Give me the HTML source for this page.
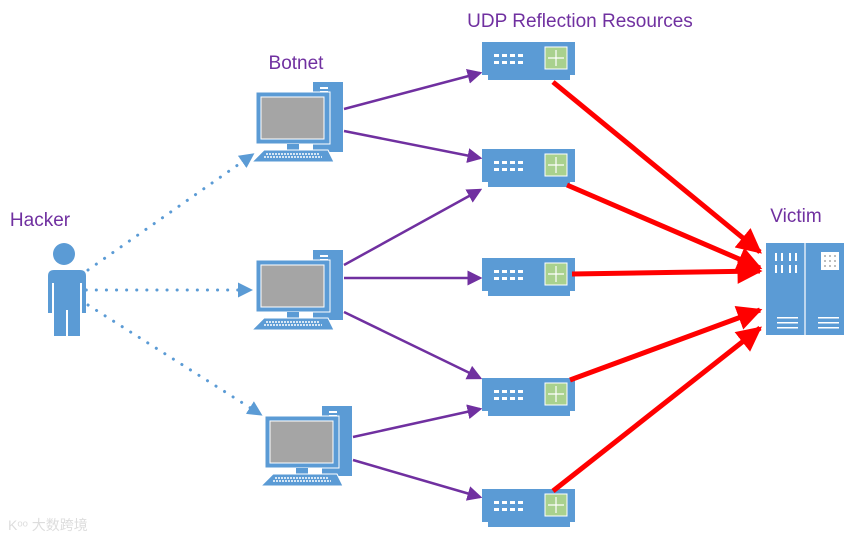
<!DOCTYPE html>
<html><head><style>body{margin:0;background:#fff}svg{display:block}</style></head><body>
<svg width="864" height="543" viewBox="0 0 864 543" xmlns="http://www.w3.org/2000/svg" font-family="Liberation Sans, sans-serif">
<defs>
<marker id="pa" markerWidth="6" markerHeight="6" refX="5" refY="3" orient="auto" markerUnits="strokeWidth"><path d="M0,0L6,3L0,6z" fill="#7030a0"/></marker>
<marker id="ba" markerWidth="5" markerHeight="5" refX="4" refY="2.5" orient="auto" markerUnits="strokeWidth"><path d="M0,0L5,2.5L0,5z" fill="#5b9bd5"/></marker>
<marker id="ra" markerWidth="5" markerHeight="5" refX="4.5" refY="2.5" orient="auto" markerUnits="strokeWidth"><path d="M0,0L5,2.5L0,5z" fill="#f00"/></marker>
<g id="sw">
<rect x="0" y="0" width="93" height="33" fill="#5b9bd5"/>
<rect x="6" y="33" width="82" height="5" fill="#5b9bd5"/>
<rect x="63" y="5" width="22" height="22" fill="#a9d18e" stroke="#fff" stroke-width="1"/>
<path d="M74,8v16M66,16h16" stroke="#fff" stroke-width="1.2"/>
<g fill="#fff"><rect x="12" y="12" width="5" height="3"/><rect x="20" y="12" width="5" height="3"/><rect x="28" y="12" width="5" height="3"/><rect x="36" y="12" width="5" height="3"/><rect x="12" y="19" width="5" height="3"/><rect x="20" y="19" width="5" height="3"/><rect x="28" y="19" width="5" height="3"/><rect x="36" y="19" width="5" height="3"/></g>
</g>
<g id="pc">
<rect x="61" y="0" width="30" height="70" fill="#5b9bd5"/>
<rect x="68" y="5" width="8" height="2" fill="#fff"/><rect x="68" y="9" width="8" height="2" fill="#fff"/>
<rect x="4" y="10" width="74" height="52" fill="#5b9bd5" stroke="#fff" stroke-width="1"/>
<rect x="9" y="15" width="63" height="42" fill="#a5a5a5" stroke="#fff" stroke-width="1"/>
<rect x="35" y="62" width="12" height="6" fill="#5b9bd5"/>
<path d="M12,68h64l6,12H0z" fill="#5b9bd5" stroke="#fff" stroke-width="1"/>
<path d="M14,72h54M12,75h58" stroke="#fff" stroke-width="1.5" stroke-dasharray="2 1"/>
</g>
</defs>
<text x="580" y="27" font-size="19" fill="#7030a0" text-anchor="middle">UDP Reflection Resources</text>
<text x="296" y="69" font-size="19" fill="#7030a0" text-anchor="middle">Botnet</text>
<text x="40" y="226" font-size="19" fill="#7030a0" text-anchor="middle">Hacker</text>
<text x="796" y="222" font-size="19" fill="#7030a0" text-anchor="middle">Victim</text>
<g stroke="#5b9bd5" stroke-width="3" stroke-dasharray="0.1 10" stroke-linecap="round" fill="none">
<line x1="88" y1="270" x2="252" y2="155" marker-end="url(#ba)"/>
<line x1="66" y1="290" x2="250" y2="290" marker-end="url(#ba)"/>
<line x1="88" y1="305" x2="260" y2="414" marker-end="url(#ba)"/>
</g>
<g fill="#5b9bd5">
<circle cx="64" cy="254" r="11"/>
<path d="M48,270h32q6,0 6,6v37h-4v-30h-2v53h-12v-26h-2v26h-12v-53h-2v30h-4v-37q0-6 6-6z"/>
</g>
<use href="#pc" x="252" y="82"/>
<use href="#pc" x="252" y="250"/>
<use href="#pc" x="261" y="406"/>
<g stroke="#7030a0" stroke-width="2.5" fill="none">
<line x1="344" y1="109" x2="480" y2="73" marker-end="url(#pa)"/>
<line x1="344" y1="131" x2="480" y2="158" marker-end="url(#pa)"/>
<line x1="344" y1="265" x2="480" y2="190" marker-end="url(#pa)"/>
<line x1="344" y1="278" x2="480" y2="278" marker-end="url(#pa)"/>
<line x1="344" y1="312" x2="480" y2="378" marker-end="url(#pa)"/>
<line x1="353" y1="437" x2="480" y2="409" marker-end="url(#pa)"/>
<line x1="353" y1="460" x2="480" y2="497" marker-end="url(#pa)"/>
</g>
<use href="#sw" x="482" y="42"/>
<use href="#sw" x="482" y="149"/>
<use href="#sw" x="482" y="258"/>
<use href="#sw" x="482" y="378"/>
<use href="#sw" x="482" y="489"/>
<g stroke="#f00" stroke-width="5" fill="none">
<line x1="553" y1="82" x2="760" y2="252" marker-end="url(#ra)"/>
<line x1="567" y1="185" x2="760" y2="268" marker-end="url(#ra)"/>
<line x1="572" y1="274" x2="760" y2="271" marker-end="url(#ra)"/>
<line x1="570" y1="380" x2="760" y2="310" marker-end="url(#ra)"/>
<line x1="553" y1="491" x2="760" y2="328" marker-end="url(#ra)"/>
</g>
<rect x="766" y="243" width="78" height="92" fill="#5b9bd5"/>
<line x1="805" y1="243" x2="805" y2="335" stroke="#fff" stroke-width="1.2"/>
<g fill="#fff">
<rect x="775" y="253" width="2" height="8"/><rect x="781" y="253" width="2" height="8"/><rect x="789" y="253" width="2" height="8"/><rect x="795" y="253" width="2" height="8"/>
<rect x="775" y="265" width="2" height="8"/><rect x="781" y="265" width="2" height="8"/><rect x="789" y="265" width="2" height="8"/><rect x="795" y="265" width="2" height="8"/>
<rect x="821" y="252" width="18" height="18"/>
<rect x="777" y="317" width="21" height="1.5"/><rect x="777" y="322" width="21" height="1.5"/><rect x="777" y="327" width="21" height="1.5"/>
<rect x="818" y="317" width="21" height="1.5"/><rect x="818" y="322" width="21" height="1.5"/><rect x="818" y="327" width="21" height="1.5"/>
</g>
<g fill="#aaa"><circle cx="825" cy="256" r="1"/><circle cx="830" cy="256" r="1"/><circle cx="835" cy="256" r="1"/><circle cx="825" cy="261" r="1"/><circle cx="830" cy="261" r="1"/><circle cx="835" cy="261" r="1"/><circle cx="825" cy="266" r="1"/><circle cx="830" cy="266" r="1"/><circle cx="835" cy="266" r="1"/></g>
<text x="8" y="530" font-size="14" fill="#ddd" font-family="Liberation Sans, Noto Sans CJK SC, sans-serif">Kᵒᵒ 大数跨境</text>
</svg>
</body></html>
